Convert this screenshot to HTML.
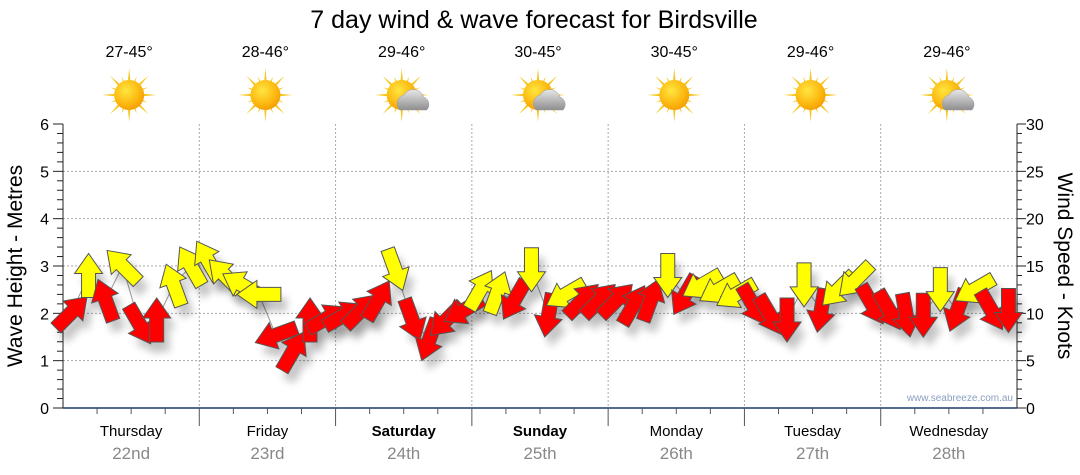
<!DOCTYPE html>
<html><head><meta charset="utf-8">
<style>
body{margin:0;background:#fff;font-family:"Liberation Sans","DejaVu Sans",sans-serif;}
svg{display:block}
</style></head>
<body>
<svg id="chart" width="1080" height="475" viewBox="0 0 1080 475" xmlns="http://www.w3.org/2000/svg">
<defs>
<filter id="sh" x="-50%" y="-50%" width="200%" height="200%"><feGaussianBlur stdDeviation="4"/></filter>
<radialGradient id="sunG" cx="0.4" cy="0.35" r="0.7"><stop offset="0" stop-color="#ffe640"/><stop offset="0.7" stop-color="#fbb40c"/><stop offset="1" stop-color="#f39a08"/></radialGradient>
<linearGradient id="cloudG" x1="0" y1="0" x2="0" y2="1"><stop offset="0" stop-color="#e8e8e8"/><stop offset="1" stop-color="#8e8e8e"/></linearGradient>
</defs>
<text x="534" y="28" font-size="25" text-anchor="middle" fill="#000">7 day wind &amp; wave forecast for Birdsville</text>
<g id="grid"></g>
<g id="axes"></g>
<g id="weather"></g>
<g id="series"></g>
<text x="1013" y="401" font-size="10" text-anchor="end" fill="#8aa0c0">www.seabreeze.com.au</text>
<text transform="translate(22,266) rotate(-90)" font-size="21" text-anchor="middle" fill="#000">Wave Height - Metres</text>
<text transform="translate(1058,266) rotate(90)" font-size="21" text-anchor="middle" fill="#000">Wind Speed - Knots</text>
</svg>
<script>
const days = ["Thursday","Friday","Saturday","Sunday","Monday","Tuesday","Wednesday"];
const dates = ["22nd","23rd","24th","25th","26th","27th","28th"];
const boldDays = [false,false,true,true,false,false,false];
const temps = ["27-45°","28-46°","29-46°","30-45°","30-45°","29-46°","29-46°"];
const cloudy = [false,false,true,true,false,false,true];
const leftTicks = [0,1,2,3,4,5,6];
const rightTicks = [0,5,10,15,20,25,30];
const windKnots = [10.1,14,11.4,15,8.8,9.3,13,15,
15.6,14,13,12,7.7,6,9.3,9.5,
9.8,10.3,11.4,14.6,9.3,7.2,9.3,10.3,
12.5,12.2,11.4,14.6,9.8,12,11.4,11.4,
11.4,10.9,11.4,14,11.9,13,12.5,12,
10.9,9.8,9.3,13,10.3,12.5,13.5,10.9,
10.3,9.8,9.8,12.5,10.3,12.5,10.3,10.3];
const windDir = [45,0,340,315,150,0,340,330,
330,315,300,270,250,30,0,60,
60,45,30,160,160,200,225,240,
30,20,210,180,190,240,45,45,
45,30,20,180,210,240,240,240,
150,150,180,180,190,225,225,150,
150,170,180,180,200,240,150,180];
const windColor = ["r","y","r","y","r","r","y","y",
"y","y","y","y","r","r","r","r",
"r","r","r","y","r","r","r","r",
"y","y","r","y","r","y","r","r",
"r","r","r","y","r","y","y","y",
"r","r","r","y","r","y","y","r",
"r","r","r","y","r","y","r","r"];

const NS="http://www.w3.org/2000/svg";
const X0=63,X1=1017,Y0=408,Y1=124;
const dayW=(X1-X0)/7;
function xTime(i){return X0+(i+0.5)*(X1-X0)/windKnots.length;}
function yMetres(m){return Y0-(m/6)*(Y0-Y1);}
function yKnots(k){return Y0-(k/30)*(Y0-Y1);}
function mk(tag,attrs,parent){const e=document.createElementNS(NS,tag);for(const k in attrs)e.setAttribute(k,attrs[k]);parent.appendChild(e);return e;}
const grid=document.getElementById('grid'),axes=document.getElementById('axes'),weather=document.getElementById('weather'),series=document.getElementById('series');

leftTicks.forEach(v=>{
  const y=yMetres(v);
  if(v>0&&v<6){const l=mk('line',{x1:X0,x2:X1,y1:y,y2:y,stroke:'#aaa','stroke-dasharray':'2,2','stroke-width':1},grid);
  
  }
  const t=mk('text',{x:49,y:y+6,'font-size':16,'text-anchor':'end',fill:'#000'},axes);t.textContent=v;
  
  
});
for(let m=0;m<=6.001;m+=0.2){const y=yMetres(m);const major=Math.abs(m-Math.round(m))<0.01;mk('line',{x1:major?53:57,x2:X0,y1:y,y2:y,stroke:'#222','stroke-width':1},axes);}
for(let k=0;k<=30.001;k+=1){const y=yKnots(k);const major=k%5===0;mk('line',{x1:X1,x2:major?X1+9:X1+5,y1:y,y2:y,stroke:'#222','stroke-width':1},axes);}
rightTicks.forEach(v=>{
  const t=mk('text',{x:1026,y:yKnots(v)+6,'font-size':16,'text-anchor':'start',fill:'#000'},axes);t.textContent=v;
  
  
});
mk('line',{x1:X0,x2:X0,y1:Y1,y2:Y0,stroke:'#222'},axes);
mk('line',{x1:X1,x2:X1,y1:Y1,y2:Y0,stroke:'#222'},axes);
mk('line',{x1:X0,x2:X1,y1:Y0,y2:Y0,stroke:'#1a3c6a','stroke-width':1.5},axes);
for(let d=0;d<7;d++){
  const xl=X0+d*dayW, xc=xl+dayW/2;
  if(d>0){const l=mk('line',{x1:xl,x2:xl,y1:Y1,y2:Y0,stroke:'#aaa','stroke-dasharray':'2,2'},grid);
  
  
  mk('line',{x1:xl,x2:xl,y1:Y0,y2:Y0+18,stroke:'#555'},axes);}
  for(let q=1;q<4;q++){const xq=xl+q*dayW/4;mk('line',{x1:xq,x2:xq,y1:Y0,y2:Y0+6,stroke:'#555'},axes);}
  const t=mk('text',{x:xc,y:436,'font-size':15,'text-anchor':'middle',fill:'#000','font-weight':boldDays[d]?'bold':'normal'},axes);t.textContent=days[d];
  
  
  const t2=mk('text',{x:xc,y:459,'font-size':17,'text-anchor':'middle',fill:'#888'},axes);t2.textContent=dates[d];
  
  
  const tt=mk('text',{x:xc-2,y:57,'font-size':16,'text-anchor':'middle',fill:'#000'},weather);tt.textContent=temps[d];
  
  
  const g=mk('g',{transform:`translate(${xc-2},95)`},weather);
  
  
  for(let r=0;r<16;r++){const a=r*22.5, L=r%2?20:27;mk('polygon',{points:`-2.5,0 2.5,0 0,-${L}`,fill:'#f5c518',transform:`rotate(${a})`},g);}
  mk('circle',{r:15,fill:'url(#sunG)'},g);
  if(cloudy[d]){mk('path',{d:'M-2,15 a9,9 0 0 1 4,-15 a11,11 0 0 1 20,2 a8,8 0 0 1 3,13 z',fill:'url(#cloudG)',stroke:'#999','stroke-width':0.5},g);}
}
// connecting line
let pts=windKnots.map((k,i)=>`${xTime(i)},${yKnots(k)}`).join(' ');
const cl=mk('polyline',{points:pts,fill:'none',stroke:'#999','stroke-width':1},series);


const arrowPts="0,-22 14,-2 7,-2 7,22 -7,22 -7,-2 -14,-2";
windKnots.forEach((k,i)=>{
  const x=xTime(i),y=yKnots(k);
  mk('polygon',{points:arrowPts,fill:'#000',opacity:0.22,filter:'url(#sh)',transform:`translate(${x+6},${y+10}) rotate(${windDir[i]})`},series);
});
windKnots.forEach((k,i)=>{
  const x=xTime(i),y=yKnots(k);
  const a=mk('polygon',{points:arrowPts,fill:windColor[i]==='r'?'#ff0000':'#ffff00',stroke:'#555','stroke-width':1,transform:`translate(${x},${y}) rotate(${windDir[i]})`},series);
  
  
});
</script>
</body></html>
